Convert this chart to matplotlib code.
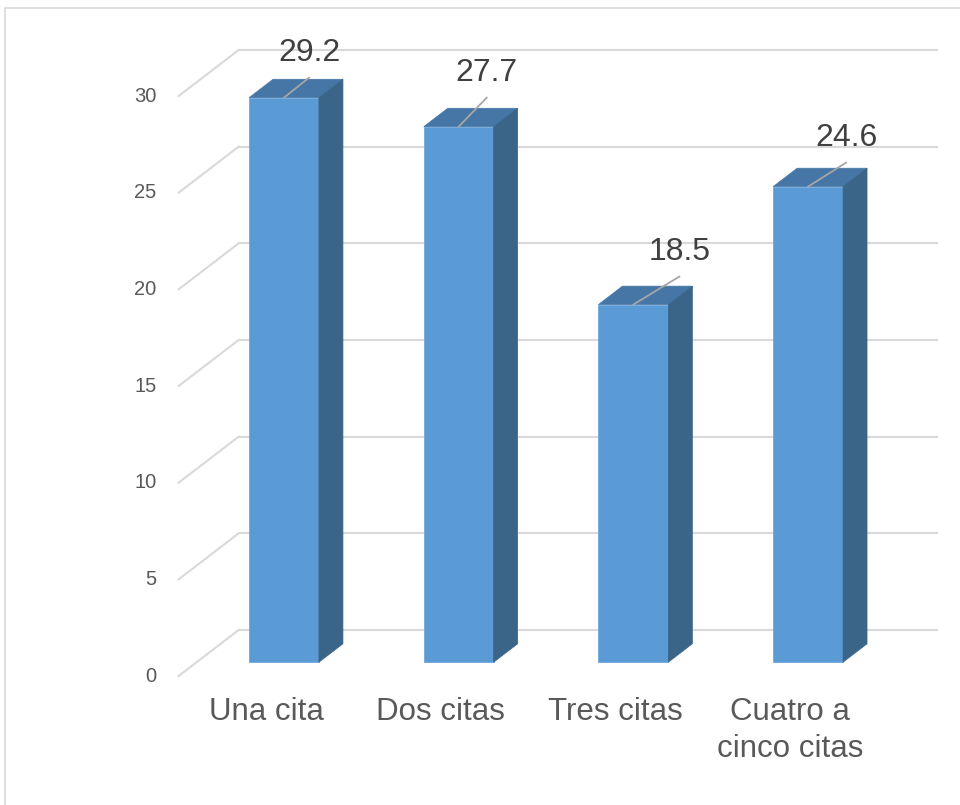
import numpy as np
import matplotlib.pyplot as plt
from matplotlib.patches import Polygon

categorias = ['Una cita', 'Dos citas', 'Tres citas', 'Cuatro a\ncinco citas']
valores = [29.2, 27.7, 18.5, 24.6]
ticks = [0, 5, 10, 15, 20, 25, 30]

# offsets of the leader lines (pixels)
guias = [(25, 20), (28, 29), (46, 28), (38, 24)]

plt.rcParams['font.family'] = ['Liberation Sans', 'DejaVu Sans']

# pixel scale of the front plane
PX_CAT = 174.7
PX_VAL = 19.333
X0, Y0 = 266, 676
W, H = 960, 805

fig = plt.figure(figsize=(9.6, 8.05), dpi=100)
ax = fig.add_axes([0, 0, 1, 1])
ax.set_xlim(-X0 / PX_CAT, (W - X0) / PX_CAT)
ax.set_ylim(-(H - Y0) / PX_VAL, Y0 / PX_VAL)
ax.axis('off')


def px(xp, yp):
    return (xp - X0) / PX_CAT, (Y0 - yp) / PX_VAL


# depth of the 3D box
dx = 60 / PX_CAT
dy = 46 / PX_VAL
x_izq, x_der = -0.5, 3.5
gris = '#D9D9D9'

# chart border
bx0, by0 = px(5, 8)
bx1, by1 = px(W + 5, H + 5)
ax.plot([bx0, bx0, bx1], [by1, by0, by0], color=gris, lw=1.2, zorder=0)

for t in ticks:
    ax.plot([x_izq, x_izq + dx], [t, t + dy], color=gris, lw=1.5, zorder=1)
    ax.plot([x_izq + dx, x_der + dx], [t + dy, t + dy], color=gris, lw=1.5, zorder=1)
    ax.text(x_izq - 22 / PX_CAT, t, str(t), ha='right', va='center',
            fontsize=14.5, color='#595959')

x = np.arange(len(valores))
w = 0.4
f0, f1 = 0.3, 0.7
ddx = (f1 - f0) * dx
ddy = (f1 - f0) * dy

ax.bar(x + f0 * dx, valores, width=w, bottom=f0 * dy, color='#5B9BD5',
       edgecolor='#6FA8DC', lw=0.6, zorder=3)

for xi, v, (gx, gy) in zip(x, valores, guias):
    xl = xi + f0 * dx - w / 2
    xr = xl + w
    yb = f0 * dy
    yt = v + f0 * dy
    tapa = [(xl, yt), (xr, yt), (xr + ddx, yt + ddy), (xl + ddx, yt + ddy)]
    lado = [(xr, yb), (xr, yt), (xr + ddx, yt + ddy), (xr + ddx, yb + ddy)]
    ax.add_patch(Polygon(tapa, closed=True, facecolor='#4676A5',
                         edgecolor='#4676A5', lw=0.5, zorder=3))
    ax.add_patch(Polygon(lado, closed=True, facecolor='#3A6488',
                         edgecolor='#3A6488', lw=0.5, zorder=3))

    # value label with leader line
    x1 = xi + f0 * dx
    x2 = x1 + gx / PX_CAT
    y2 = yt + gy / PX_VAL
    ax.plot([x1, x2], [yt, y2], color='#A6A6A6', lw=1.3, zorder=4)
    ax.text(x2, y2 + 10 / PX_VAL, f'{v:.1f}', ha='center', va='bottom',
            fontsize=23, color='#404040', zorder=5)

for xi, cat in zip(x, categorias):
    ax.text(xi, (Y0 - 697) / PX_VAL, cat, ha='center', va='top',
            fontsize=22.5, color='#595959', linespacing=1.3)

fig.savefig('out.png', dpi=100)
